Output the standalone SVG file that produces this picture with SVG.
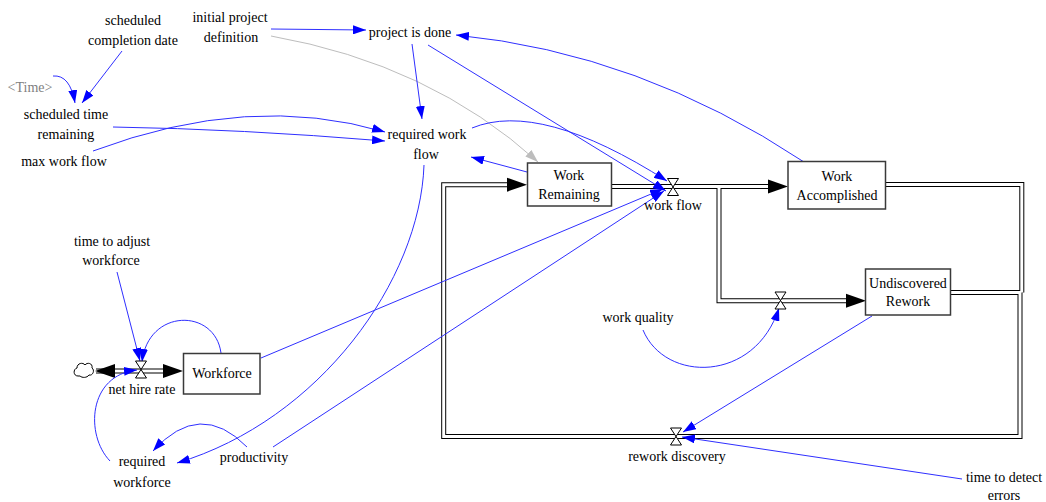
<svg xmlns="http://www.w3.org/2000/svg" width="1046" height="502" viewBox="0 0 1046 502">
  <defs>
    <marker id="ab" viewBox="0 0 13 9" refX="13" refY="4.5" markerWidth="13" markerHeight="9" orient="auto" markerUnits="userSpaceOnUse">
      <path d="M0,0 L13,4.5 L0,9 Z" fill="#0000ff"/>
    </marker>
    <marker id="ag" viewBox="0 0 13 9" refX="13" refY="4.5" markerWidth="13" markerHeight="9" orient="auto" markerUnits="userSpaceOnUse">
      <path d="M0,0 L13,4.5 L0,9 Z" fill="#bdbdbd"/>
    </marker>
    <path id="valve" d="M-5.5,-8.5 H5.5 L-5.5,8.5 H5.5 Z" fill="#fff" stroke="#000" stroke-width="1"/>
    <path id="loop" d="M950,292.5 H1020 V436.5 H443.7 V184.7 H510"/>
    <path id="wa-out" d="M886,184.5 H1021.8 V292.5"/>
    <path id="wf" d="M611,186.5 H770"/>
    <path id="branch" d="M719,186.5 V300.8 H848"/>
    <path id="hire" d="M96,371 H165"/>
  </defs>

  <rect width="1046" height="502" fill="#fff"/>

  <!-- material flow pipes: a wide black stroke with a narrower white core -->
  <g id="flows" fill="none">
    <g stroke="#000" stroke-width="5">
      <use href="#loop"/><use href="#wa-out"/><use href="#wf"/><use href="#branch"/><use href="#hire"/>
    </g>
    <g stroke="#fff" stroke-width="3">
      <use href="#loop"/><use href="#wa-out"/><use href="#wf"/><use href="#branch"/><use href="#hire"/>
    </g>
    <g fill="#000">
      <polygon points="507,177.7 527,184.7 507,191.7"/>
      <polygon points="768,179.5 788,186.5 768,193.5"/>
      <polygon points="846,293.8 866,300.8 846,307.8"/>
      <polygon points="163,364 183,371 163,378"/>
      <polygon points="115,364 95,371 115,378"/>
    </g>
  </g>

  <!-- information links -->
  <g id="connectors" fill="none" stroke="#2f2fff" stroke-width="1" marker-end="url(#ab)">
    <path d="M271,29 L366,30"/>
    <path d="M271,36 Q430,64 538,162" stroke="#bdbdbd" marker-end="url(#ag)"/>
    <path d="M122,51 L82,103"/>
    <path d="M53,76 Q70,74.5 75,103"/>
    <path d="M113,127 Q240,129 385,141"/>
    <path d="M93,151 Q250,92 385,132"/>
    <path d="M412,44 L422,119"/>
    <path d="M527,172 L471,157"/>
    <path d="M424,165 C420,280 320,420 177,463"/>
    <path d="M247,447 Q200,399 153,451"/>
    <path d="M273,447 L664,191"/>
    <path d="M261,358 L663,189"/>
    <path d="M428,45 L666,191"/>
    <path d="M472,128 Q540,100 667,181"/>
    <path d="M804,162 Q640,53 456,35"/>
    <path d="M117,272 L140,361"/>
    <path d="M221,353 C215,308 148,308 142,362"/>
    <path d="M110,461 C85,435 88,375 137,370"/>
    <path d="M643,330 C665,383 755,383 779,308"/>
    <path d="M872,316 L683,432"/>
    <path d="M962,479 L682,437"/>
  </g>

  <!-- stocks -->
  <g id="work-remaining">
    <rect x="527.5" y="163" width="84" height="43" fill="#fff" stroke="#3a3a3a" stroke-width="1.5"/>
    <text x="569" y="180" font-family="Liberation Serif" font-size="14" text-anchor="middle">Work</text>
    <text x="569" y="199" font-family="Liberation Serif" font-size="14" text-anchor="middle">Remaining</text>
  </g>
  <g id="work-accomplished">
    <rect x="788" y="161.5" width="97.5" height="47.5" fill="#fff" stroke="#3a3a3a" stroke-width="1.5"/>
    <text x="837" y="181" font-family="Liberation Serif" font-size="14" text-anchor="middle">Work</text>
    <text x="837" y="200" font-family="Liberation Serif" font-size="14" text-anchor="middle">Accomplished</text>
  </g>
  <g id="undiscovered-rework">
    <rect x="865.5" y="269" width="85" height="46" fill="#fff" stroke="#3a3a3a" stroke-width="1.5"/>
    <text x="908" y="288" font-family="Liberation Serif" font-size="14" text-anchor="middle">Undiscovered</text>
    <text x="908" y="306" font-family="Liberation Serif" font-size="14" text-anchor="middle">Rework</text>
  </g>
  <g id="workforce">
    <rect x="183.5" y="353.5" width="76.5" height="40.5" fill="#fff" stroke="#3a3a3a" stroke-width="1.5"/>
    <text x="222" y="378" font-family="Liberation Serif" font-size="14" text-anchor="middle">Workforce</text>
  </g>

  <!-- rates -->
  <g id="work-flow">
    <use href="#valve" x="673" y="187"/>
    <text x="673" y="210" font-family="Liberation Serif" font-size="14" text-anchor="middle">work flow</text>
  </g>
  <g id="rework-generation">
    <use href="#valve" x="780.5" y="300.5"/>
  </g>
  <g id="rework-discovery">
    <use href="#valve" x="676" y="436.5"/>
    <text x="677" y="461" font-family="Liberation Serif" font-size="14" text-anchor="middle">rework discovery</text>
  </g>
  <g id="net-hire-rate">
    <use href="#valve" x="141" y="369.5"/>
    <text x="142" y="394" font-family="Liberation Serif" font-size="14" text-anchor="middle">net hire rate</text>
  </g>
  <g id="source-cloud">
    <path d="M78,376 C73,376 73,369 77,368 C77,363 83,362 85,365 C87,362 93,363 92,368 C95,370 93,376 89,375 C87,378 82,378 80,376 Z" fill="#fff" stroke="#000" stroke-width="1"/>
  </g>

  <!-- auxiliaries -->
  <g id="scheduled-completion-date">
    <text x="133" y="25" font-family="Liberation Serif" font-size="14" text-anchor="middle">scheduled</text>
    <text x="133" y="45" font-family="Liberation Serif" font-size="14" text-anchor="middle">completion date</text>
  </g>
  <g id="initial-project-definition">
    <text x="230" y="22" font-family="Liberation Serif" font-size="14" text-anchor="middle">initial project</text>
    <text x="231" y="42" font-family="Liberation Serif" font-size="14" text-anchor="middle">definition</text>
  </g>
  <g id="project-is-done">
    <text x="410" y="37" font-family="Liberation Serif" font-size="14" text-anchor="middle">project is done</text>
  </g>
  <g id="time">
    <text x="30" y="91.5" font-family="Liberation Serif" font-size="14" text-anchor="middle" fill="#808080">&lt;Time&gt;</text>
  </g>
  <g id="scheduled-time-remaining">
    <text x="66" y="119" font-family="Liberation Serif" font-size="14" text-anchor="middle">scheduled time</text>
    <text x="66" y="139" font-family="Liberation Serif" font-size="14" text-anchor="middle">remaining</text>
  </g>
  <g id="max-work-flow">
    <text x="64" y="166" font-family="Liberation Serif" font-size="14" text-anchor="middle">max work flow</text>
  </g>
  <g id="required-work-flow">
    <text x="427" y="139" font-family="Liberation Serif" font-size="14" text-anchor="middle">required work</text>
    <text x="426" y="159" font-family="Liberation Serif" font-size="14" text-anchor="middle">flow</text>
  </g>
  <g id="work-quality">
    <text x="638" y="322" font-family="Liberation Serif" font-size="14" text-anchor="middle">work quality</text>
  </g>
  <g id="time-to-adjust-workforce">
    <text x="112" y="246" font-family="Liberation Serif" font-size="14" text-anchor="middle">time to adjust</text>
    <text x="111" y="265" font-family="Liberation Serif" font-size="14" text-anchor="middle">workforce</text>
  </g>
  <g id="productivity">
    <text x="254" y="462" font-family="Liberation Serif" font-size="14" text-anchor="middle">productivity</text>
  </g>
  <g id="required-workforce">
    <text x="142" y="466" font-family="Liberation Serif" font-size="14" text-anchor="middle">required</text>
    <text x="142" y="487" font-family="Liberation Serif" font-size="14" text-anchor="middle">workforce</text>
  </g>
  <g id="time-to-detect-errors">
    <text x="1004" y="482" font-family="Liberation Serif" font-size="14" text-anchor="middle">time to detect</text>
    <text x="1004" y="500" font-family="Liberation Serif" font-size="14" text-anchor="middle">errors</text>
  </g>
</svg>
